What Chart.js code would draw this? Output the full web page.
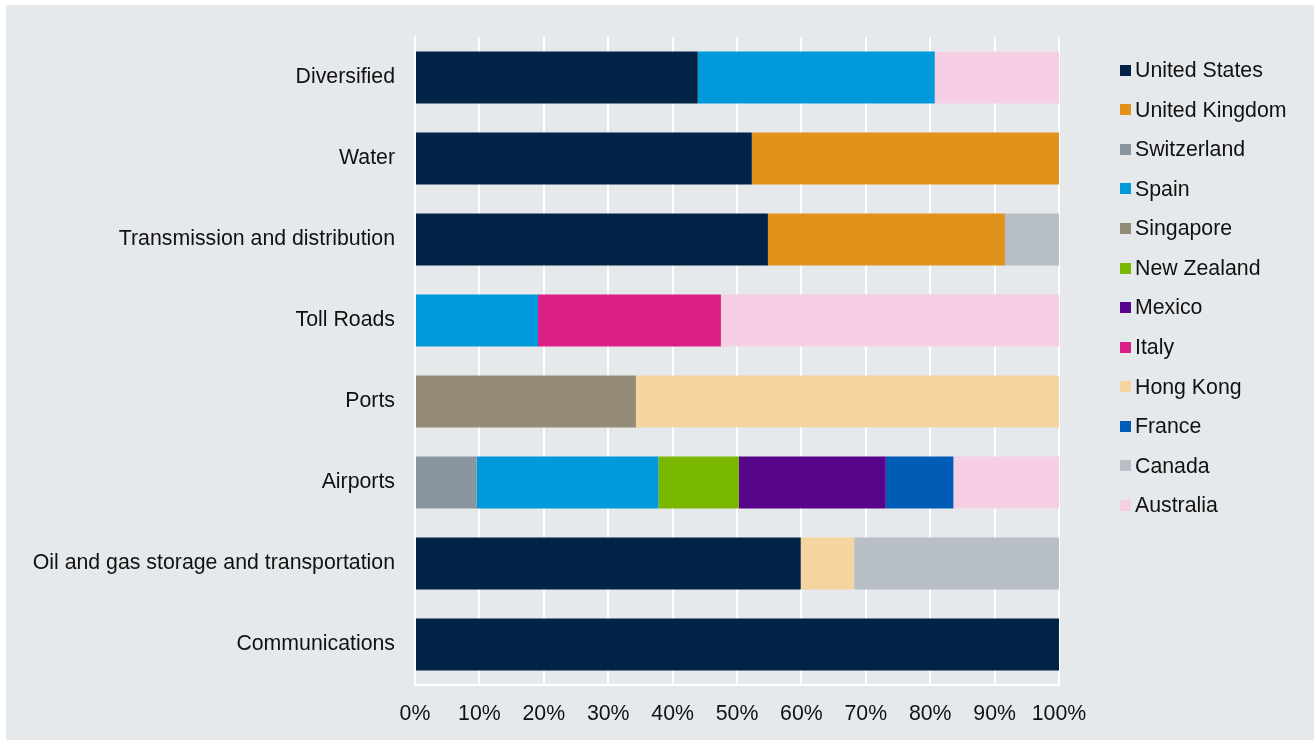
<!DOCTYPE html>
<html>
<head>
<meta charset="utf-8">
<script src="https://cdn.jsdelivr.net/npm/chart.js@4/dist/chart.umd.min.js"></script>
<style>
  html, body { margin: 0; padding: 0; background: #ffffff; }
  #wrap { position: relative; width: 1314px; height: 744px; }
</style>
</head>
<body>
<div id="wrap"><canvas id="c" width="1314" height="744"></canvas></div>
<script>
const categories = ["Diversified", "Water", "Transmission and distribution", "Toll Roads", "Ports", "Airports", "Oil and gas storage and transportation", "Communications"];
const countries = ["United States", "United Kingdom", "Switzerland", "Spain", "Singapore", "New Zealand", "Mexico", "Italy", "Hong Kong", "France", "Canada", "Australia"];
const unitedStates   = [43.9, 52.3, 54.8, 0, 0, 0, 59.9, 100];
const unitedKingdom  = [0, 47.7, 36.8, 0, 0, 0, 0, 0];
const switzerland    = [0, 0, 0, 0, 0, 9.6, 0, 0];
const spain          = [36.8, 0, 0, 19.1, 0, 28.2, 0, 0];
const singapore      = [0, 0, 0, 0, 34.3, 0, 0, 0];
const newZealand     = [0, 0, 0, 0, 0, 12.5, 0, 0];
const mexico         = [0, 0, 0, 0, 0, 22.8, 0, 0];
const italy          = [0, 0, 0, 28.4, 0, 0, 0, 0];
const hongKong       = [0, 0, 0, 0, 65.7, 0, 8.3, 0];
const france         = [0, 0, 0, 0, 0, 10.5, 0, 0];
const canada         = [0, 0, 8.4, 0, 0, 0, 31.8, 0];
const australia      = [19.3, 0, 0, 52.5, 0, 16.4, 0, 0];
const tickValues = [0, 10, 20, 30, 40, 50, 60, 70, 80, 90, 100];

const seriesValues = [unitedStates, unitedKingdom, switzerland, spain, singapore, newZealand, mexico, italy, hongKong, france, canada, australia];
const colors = ["#002346", "#e1921a", "#8a969f", "#0099dc", "#948b78", "#7ab800", "#57068c", "#d91f86", "#f5d4a0", "#005cb4", "#b8bec5", "#f6cfe4"];

const FONT = "'Liberation Sans', Arial, sans-serif";
const TEXT = "#111111";
const FS = 21.3;

const bgPlugin = {
  id: 'bg',
  beforeDraw(chart) {
    const ctx = chart.ctx;
    ctx.save();
    ctx.fillStyle = '#ffffff';
    ctx.fillRect(0, 0, chart.width, chart.height);
    ctx.fillStyle = '#e6e9ec';
    ctx.fillRect(6, 5, chart.width - 6, 735);
    ctx.restore();
  }
};

const legendPlugin = {
  id: 'customLegend',
  afterDraw(chart) {
    const ctx = chart.ctx;
    ctx.save();
    ctx.font = FS + "px " + FONT;
    ctx.textBaseline = 'middle';
    ctx.textAlign = 'left';
    chart.data.datasets.forEach((ds, i) => {
      const cy = 70.3 + i * 39.55;
      ctx.fillStyle = ds.backgroundColor;
      ctx.fillRect(1120, Math.round(cy - 5.5), 11, 11);
      ctx.fillStyle = TEXT;
      ctx.fillText(ds.label, 1135, cy + 1);
    });
    ctx.restore();
  }
};

new Chart(document.getElementById('c'), {
  type: 'bar',
  data: {
    labels: categories,
    datasets: countries.map((name, i) => ({
      label: name,
      data: seriesValues[i],
      backgroundColor: colors[i],
      borderWidth: 0,
      barPercentage: 0.642,
      categoryPercentage: 1.0
    }))
  },
  options: {
    indexAxis: 'y',
    responsive: false,
    animation: false,
    devicePixelRatio: 1,
    layout: { padding: { left: 0, right: 255, top: 37, bottom: 0 } },
    plugins: { legend: { display: false }, tooltip: { enabled: false } },
    scales: {
      x: {
        stacked: true,
        min: 0,
        max: 100,
        afterBuildTicks(scale) { scale.ticks = tickValues.map(v => ({ value: v })); },
        afterFit(scale) { scale.height = 59; },
        ticks: {
          callback: v => v + '%',
          font: { family: FONT, size: FS },
          color: TEXT,
          padding: 16,
          maxRotation: 0,
          autoSkip: false
        },
        grid: { color: '#ffffff', lineWidth: 2, drawTicks: false },
        border: { display: true, color: '#ffffff', width: 2 }
      },
      y: {
        stacked: true,
        afterFit(scale) { scale.width = 415; },
        ticks: {
          font: { family: FONT, size: FS },
          color: TEXT,
          padding: 20
        },
        grid: { display: false, drawTicks: false },
        border: { display: true, color: '#ffffff', width: 2 }
      }
    }
  },
  plugins: [bgPlugin, legendPlugin]
});
</script>
</body>
</html>
